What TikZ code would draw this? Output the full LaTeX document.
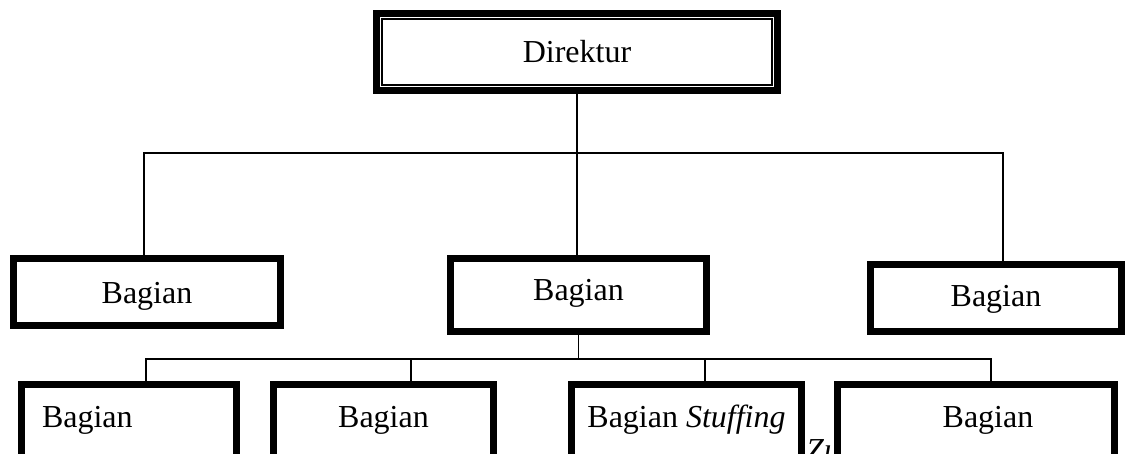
\documentclass[tikz,border=0pt]{standalone}
\usepackage{fontspec}
\setmainfont{Liberation Serif}

\tikzset{
  unit/.style={draw, rectangle, line width=7pt, fill=white, inner sep=0pt, text height=22pt, text depth=0pt},
  row3/.style={unit, minimum height=73pt, text depth=10pt},
  link/.style={line width=1.6pt},
}

\begin{document}
\begin{tikzpicture}[x=1pt,y=-1pt,font=\fontsize{32}{38}\selectfont]
  \useasboundingbox (0,0) rectangle (1126,454);
  % stray word half hidden under the last row
  \node[anchor=base west, inner sep=0pt, font=\fontsize{32}{38}\selectfont\itshape] (zu) at (806,460) {Zu};
  % top box
  \node[unit, minimum width=401pt, minimum height=77pt] (dir) at (577,52) {Direktur};
  \draw[line width=2.5pt] ([shift={(9,9)}]dir.north west) rectangle ([shift={(-9,-9)}]dir.south east);
  % second row
  \node[unit, minimum width=267pt, minimum height=67pt] (b2a) at (147,292) {Bagian};
  \node[unit, minimum width=256pt, minimum height=73pt, text depth=12pt] (b2b) at (578.5,295) {Bagian};
  \node[unit, minimum width=251pt, minimum height=67pt, text depth=6pt] (b2c) at (996,298) {Bagian};
  % third row
  \node[row3, minimum width=215pt, text width=174pt, align=left, inner xsep=20.5pt] (b3a) at (129,421) {Bagian};
  \node[row3, minimum width=220pt] (b3b) at (383.5,421) {Bagian};
  \node[row3, minimum width=230pt] (b3c) at (686.5,421) {Bagian \textit{Stuffing}};
  \node[row3, minimum width=277pt] (b3d) at (976,421) {\hspace*{24pt}Bagian};
  % links from the top box
  \coordinate (j1) at (577,153);
  \coordinate (j1a) at (144,153);
  \coordinate (j1c) at (1003,153);
  \draw[link] (dir.south) -- (j1);
  \draw[link] (j1a |- b2a.north) -- (j1a) -- (j1c) -- (j1c |- b2c.north);
  \draw[link] (j1) -- (j1 |- b2b.north);
  % links to the third row
  \coordinate (j2) at (578.5,359);
  \foreach \n/\x in {a/146,b/411,c/705,d/991} {\coordinate (j3\n) at (\x,359);}
  \draw[link] (b2b.south) -- (j2);
  \draw[link] (j3a |- b3a.north) -- (j3a) -- (j3d) -- (j3d |- b3d.north);
  \foreach \n in {b,c} {\draw[link] (j3\n) -- (j3\n |- b3\n.north);}
\end{tikzpicture}
\end{document}
